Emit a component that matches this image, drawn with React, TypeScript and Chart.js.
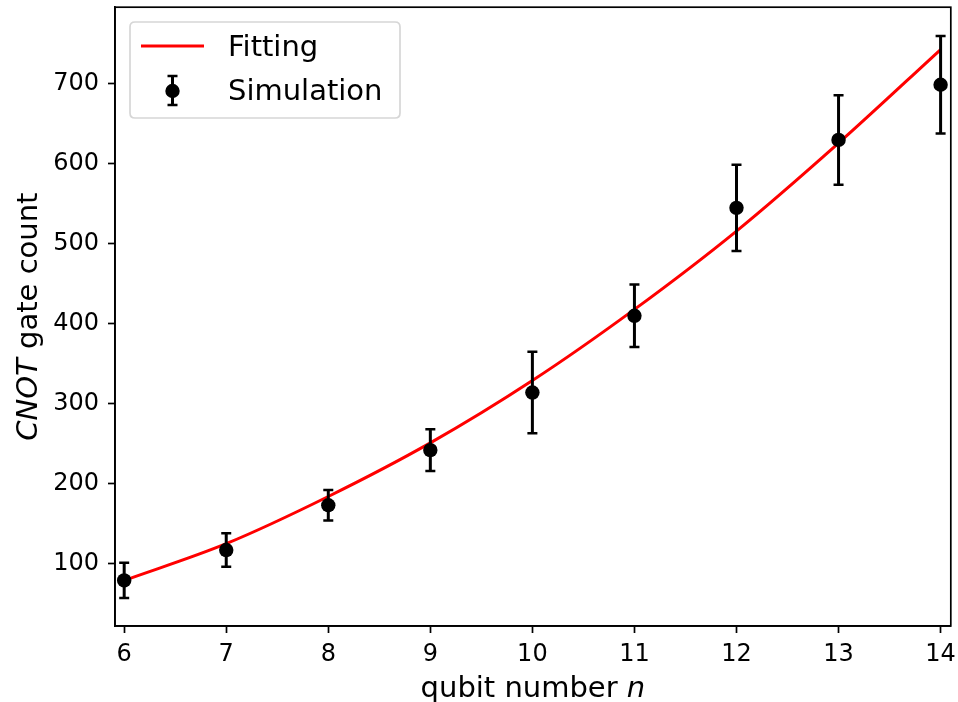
import { useEffect, useRef } from 'react';
import { Chart, registerables } from 'chart.js';

Chart.register(...registerables);

// ---- data ----
const qubitNumbers = [6, 7, 8, 9, 10, 11, 12, 13, 14];
const simulationValues = [79, 117, 173, 242, 314, 410, 545, 630, 699];
const simulationErrors = [22, 21, 19, 26, 51, 39, 54, 56, 61];
const fittingValues = [79, 125, 184, 251, 329, 418, 516, 626, 743];
const xTickValues = [6, 7, 8, 9, 10, 11, 12, 13, 14];
const yTickValues = [100, 200, 300, 400, 500, 600, 700];

const FONT = 'DejaVu Sans';

const customPlugin = {
  id: 'mplStyle',
  afterDatasetsDraw(chart: any) {
    const ctx = chart.ctx;
    const xs = chart.scales.x;
    const ys = chart.scales.y;
    ctx.save();
    ctx.strokeStyle = '#000';
    for (let i = 0; i < qubitNumbers.length; i++) {
      const x = xs.getPixelForValue(qubitNumbers[i]);
      const yt = ys.getPixelForValue(simulationValues[i] + simulationErrors[i]);
      const yb = ys.getPixelForValue(simulationValues[i] - simulationErrors[i]);
      ctx.lineWidth = 3;
      ctx.beginPath();
      ctx.moveTo(x, yt);
      ctx.lineTo(x, yb);
      ctx.stroke();
      ctx.beginPath();
      ctx.lineWidth = 2.5;
      ctx.moveTo(x - 5, yt);
      ctx.lineTo(x + 5, yt);
      ctx.moveTo(x - 5, yb);
      ctx.lineTo(x + 5, yb);
      ctx.stroke();
    }
    ctx.restore();
  },
  afterDraw(chart: any) {
    const ctx = chart.ctx;
    const a = chart.chartArea;
    ctx.save();
    // spines
    ctx.strokeStyle = '#000';
    ctx.lineWidth = 1.7;
    ctx.strokeRect(a.left, a.top, a.right - a.left, a.bottom - a.top);

    // legend box
    const lx = 130, ly = 22, lw = 270, lh = 96, r = 5;
    ctx.beginPath();
    ctx.moveTo(lx + r, ly);
    ctx.lineTo(lx + lw - r, ly);
    ctx.quadraticCurveTo(lx + lw, ly, lx + lw, ly + r);
    ctx.lineTo(lx + lw, ly + lh - r);
    ctx.quadraticCurveTo(lx + lw, ly + lh, lx + lw - r, ly + lh);
    ctx.lineTo(lx + r, ly + lh);
    ctx.quadraticCurveTo(lx, ly + lh, lx, ly + lh - r);
    ctx.lineTo(lx, ly + r);
    ctx.quadraticCurveTo(lx, ly, lx + r, ly);
    ctx.closePath();
    ctx.fillStyle = 'rgba(255,255,255,0.8)';
    ctx.fill();
    ctx.strokeStyle = '#d6d6d6';
    ctx.lineWidth = 1.7;
    ctx.stroke();

    // legend: fitting line
    ctx.strokeStyle = '#ff0000';
    ctx.lineWidth = 3;
    ctx.beginPath();
    ctx.moveTo(141, 46);
    ctx.lineTo(204, 46);
    ctx.stroke();
    // legend: errorbar marker
    ctx.strokeStyle = '#000';
    ctx.lineWidth = 3;
    ctx.beginPath();
    ctx.moveTo(172.5, 76);
    ctx.lineTo(172.5, 105);
    ctx.stroke();
    ctx.lineWidth = 2.5;
    ctx.beginPath();
    ctx.moveTo(167.5, 76);
    ctx.lineTo(177.5, 76);
    ctx.moveTo(167.5, 105);
    ctx.lineTo(177.5, 105);
    ctx.stroke();
    ctx.fillStyle = '#000';
    ctx.beginPath();
    ctx.arc(172.5, 91, 7.2, 0, Math.PI * 2);
    ctx.fill();

    ctx.fillStyle = '#000';
    ctx.font = `29px "${FONT}"`;
    ctx.textAlign = 'left';
    ctx.textBaseline = 'middle';
    ctx.fillText('Fitting', 228, 48);
    ctx.fillText('Simulation', 228, 92);

    // x axis title
    const normal = `29px "${FONT}"`;
    const italic = `oblique 29px "${FONT}"`;
    ctx.font = normal;
    const t1 = 'qubit number ';
    const w1 = ctx.measureText(t1).width;
    ctx.font = italic;
    const w2 = ctx.measureText('n').width;
    const cx = (a.left + a.right) / 2;
    const sx = cx - (w1 + w2) / 2;
    ctx.textBaseline = 'alphabetic';
    ctx.font = normal;
    ctx.fillText(t1, sx, 697);
    ctx.font = italic;
    ctx.fillText('n', sx + w1, 697);

    // y axis title
    ctx.save();
    ctx.translate(37, (a.top + a.bottom) / 2);
    ctx.rotate(-Math.PI / 2);
    ctx.font = italic;
    const y1 = 'CNOT';
    const yw1 = ctx.measureText(y1).width;
    ctx.font = normal;
    const y2 = ' gate count';
    const yw2 = ctx.measureText(y2).width;
    const sy = -(yw1 + yw2) / 2;
    ctx.font = italic;
    ctx.fillText(y1, sy, 0);
    ctx.font = normal;
    ctx.fillText(y2, sy + yw1, 0);
    ctx.restore();

    ctx.restore();
  },
};

export default function App() {
  const ref = useRef<HTMLCanvasElement>(null);
  useEffect(() => {
    if (!ref.current) return;
    const chart = new Chart(ref.current, {
      type: 'scatter',
      data: {
        datasets: [
          {
            label: 'Simulation',
            data: qubitNumbers.map((n, i) => ({ x: n, y: simulationValues[i] })),
            pointRadius: 7.2,
            pointBackgroundColor: '#000',
            pointBorderColor: '#000',
            pointBorderWidth: 0,
            showLine: false,
          },
          {
            label: 'Fitting',
            data: qubitNumbers.map((n, i) => ({ x: n, y: fittingValues[i] })),
            showLine: true,
            borderColor: '#ff0000',
            borderWidth: 3,
            pointRadius: 0,
            cubicInterpolationMode: 'monotone',
            fill: false,
          } as any,
        ],
      },
      options: {
        responsive: false,
        devicePixelRatio: 1,
        animation: false,
        events: [],
        layout: { padding: { top: 6, right: 6, left: 0, bottom: 0 } },
        plugins: { legend: { display: false }, tooltip: { enabled: false } },
        scales: {
          x: {
            type: 'linear',
            min: 5.91,
            max: 14.1,
            afterBuildTicks: (s: any) => {
              s.ticks = xTickValues.map((v) => ({ value: v }));
            },
            afterFit: (s: any) => {
              s.height = 76;
              s.paddingLeft = 0;
              s.paddingRight = 0;
            },
            ticks: {
              font: { family: FONT, size: 24 },
              color: '#000',
              padding: 7,
              maxRotation: 0,
              autoSkip: false,
            },
            grid: {
              drawOnChartArea: false,
              drawTicks: true,
              tickLength: 7,
              tickWidth: 1.7,
              tickColor: '#000',
            },
            border: { display: true, color: '#000', width: 1.7 },
          },
          y: {
            type: 'linear',
            min: 22,
            max: 796,
            afterBuildTicks: (s: any) => {
              s.ticks = yTickValues.map((v) => ({ value: v }));
            },
            afterFit: (s: any) => {
              s.width = 115;
              s.paddingTop = 0;
              s.paddingBottom = 0;
            },
            ticks: {
              font: { family: FONT, size: 24 },
              color: '#000',
              padding: 9,
              autoSkip: false,
            },
            grid: {
              drawOnChartArea: false,
              drawTicks: true,
              tickLength: 7,
              tickWidth: 1.7,
              tickColor: '#000',
            },
            border: { display: true, color: '#000', width: 1.7 },
          },
        },
      },
      plugins: [customPlugin],
    });
    return () => chart.destroy();
  }, []);
  return (
    <div style={{ position: 'fixed', left: 0, top: 0, width: 958, height: 702, background: '#fff' }}>
      <canvas ref={ref} width={958} height={702} style={{ width: 958, height: 702, display: 'block' }} />
    </div>
  );
}
